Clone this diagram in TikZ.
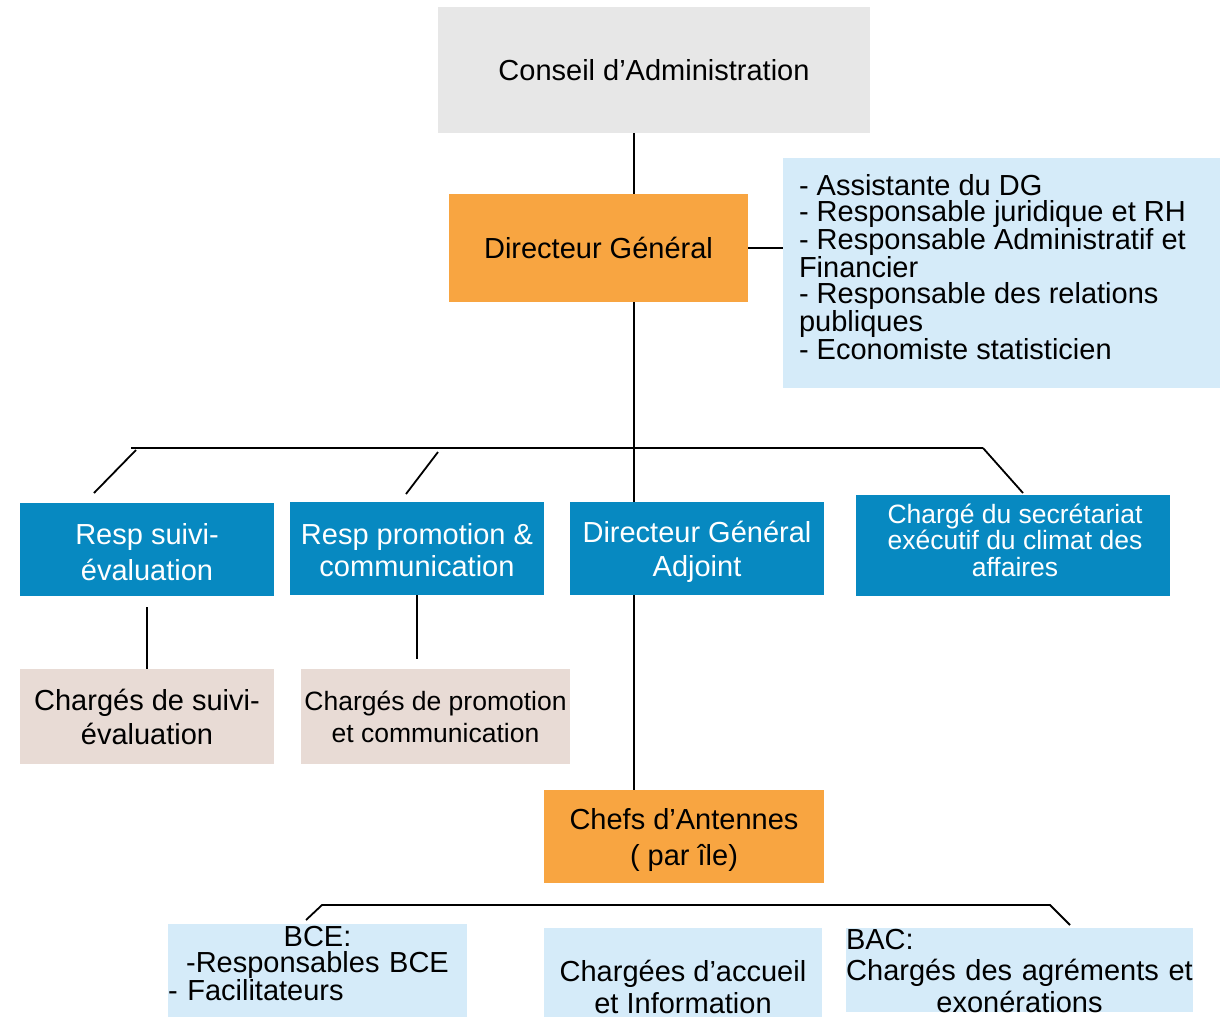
\documentclass[tikz,border=0pt]{standalone}
\usepackage{fontspec}
\setmainfont{Liberation Sans}
\definecolor{cgray}{HTML}{E7E7E7}
\definecolor{corange}{HTML}{F8A541}
\definecolor{cblue}{HTML}{0789C1}
\definecolor{cbeige}{HTML}{E8DBD5}
\definecolor{clight}{HTML}{D5EBF9}
\begin{document}
\begin{tikzpicture}[x=1pt,y=-1pt,
  box/.style={draw=none,inner sep=0pt,outer sep=0pt,anchor=north west,align=center,
    font=\fontsize{29}{34}\selectfont},
  graybox/.style={box,fill=cgray},
  orbox/.style={box,fill=corange},
  bluebox/.style={box,fill=cblue,text=white},
  beigebox/.style={box,fill=cbeige},
  lightbox/.style={box,fill=clight},
  conn/.style={line width=1.8pt,black},
  txt/.style={inner sep=0pt,outer sep=0pt,align=center,font=\fontsize{29}{32}\selectfont}]
\useasboundingbox (0,0) rectangle (1220,1018);
\fill[white] (0,0) rectangle (1220,1018);

% boxes
\node[graybox,minimum width=432pt,minimum height=126pt] (conseil) at (438,7) {Conseil d’Administration};
\node[orbox,minimum width=299pt,minimum height=108pt] (dg) at (449,194) {Directeur Général};
\node[lightbox,minimum width=437pt,minimum height=230pt] (staff) at (783,158) {};
\node[txt,anchor=north west,align=left,font=\fontsize{29}{26.2}\selectfont] (stafftext) at (799,174)
  {- Assistante du DG\\- Responsable juridique et RH\\- Responsable Administratif et\\Financier\\- Responsable des relations\\publiques\\- Economiste statisticien};

\node[bluebox,minimum width=254pt,minimum height=93pt] (rsuivi) at (20,503) {};
\node[txt,text=white,font=\fontsize{29}{36}\selectfont] (rsuivitext) at (147,552) {Resp suivi-\\évaluation};
\node[bluebox,minimum width=254pt,minimum height=93pt] (rpromo) at (290,502) {};
\node[txt,text=white,font=\fontsize{29}{32}\selectfont] (rpromotext) at (417,550) {Resp promotion \&\\communication};
\node[bluebox,minimum width=254pt,minimum height=93pt] (dga) at (570,502) {};
\node[txt,text=white,font=\fontsize{29}{34}\selectfont] (dgatext) at (697,551.5) {Directeur Général\\Adjoint};
\node[bluebox,minimum width=314pt,minimum height=101pt] (csec) at (856,495) {};
\node[txt,text=white,font=\fontsize{26.5}{26.5}\selectfont] (csectext) at (1015,540) {Chargé du secrétariat\\exécutif du climat des\\affaires};

\node[beigebox,minimum width=254pt,minimum height=95pt,font=\fontsize{29}{34}\selectfont] (csuivi) at (20,669) {Chargés de suivi-\\évaluation};
\node[beigebox,minimum width=269pt,minimum height=95pt,font=\fontsize{26.5}{32}\selectfont] (cpromo) at (301,669) {Chargés de promotion\\et communication};

\node[orbox,minimum width=280pt,minimum height=93pt] (chefs) at (544,790) {};
\node[txt,font=\fontsize{29}{36}\selectfont] (chefstext) at (684,840) {Chefs d’Antennes\\( par île)};

\node[lightbox,minimum width=299pt,minimum height=93pt] (bce) at (168,924) {};
\node[txt,text width=299pt,anchor=north west,font=\fontsize{29}{26.5}\selectfont] (bcetext) at (168,926)
  {BCE:\\-Responsables BCE\\\makebox[299pt][l]{- Facilitateurs}};
\node[lightbox,minimum width=278pt,minimum height=89pt] (accueil) at (544,928) {};
\node[txt] (accueiltext) at (683,987) {Chargées d’accueil\\et Information};
\node[lightbox,minimum width=347pt,minimum height=84pt] (bac) at (846,928) {};
\node[txt,text width=347pt,font=\fontsize{29}{31.5}\selectfont] (bactext) at (1019.5,971)
  {\makebox[347pt][l]{BAC:}\\Chargés des agréments et\\exonérations};

% coordinates
\coordinate (spine) at (634,0);
\coordinate (barL) at (131,448);
\coordinate (barR) at (983,448);
\coordinate (d1a) at (136,450);
\coordinate (d1b) at (94,493);
\coordinate (d2a) at (438,452);
\coordinate (d2b) at (406,494);
\coordinate (d3b) at (1023,493);
\coordinate (b1) at (306,920);
\coordinate (b2) at (322,905);
\coordinate (b3) at (1050,905);
\coordinate (b4) at (1070,925);

% connectors
\draw[conn] (conseil.south -| spine) -- (dg.north -| spine);
\draw[conn] (dg.south -| spine) -- (dga.north -| spine);
\draw[conn] (dga.south -| spine) -- (chefs.north -| spine);
\draw[conn] (dg.east) -- (dg.east -| staff.west);
\draw[conn] (barL) -- (barR);
\draw[conn] (d1a) -- (d1b);
\draw[conn] (d2a) -- (d2b);
\draw[conn] (barR) -- (d3b);
\draw[conn] ([yshift=-11pt]rsuivi.south) -- (csuivi.north);
\draw[conn] (rpromo.south) -- ([yshift=10pt]rpromo.south |- cpromo.north);
\draw[conn] (b1) -- (b2) -- (b3) -- (b4);
\end{tikzpicture}
\end{document}
